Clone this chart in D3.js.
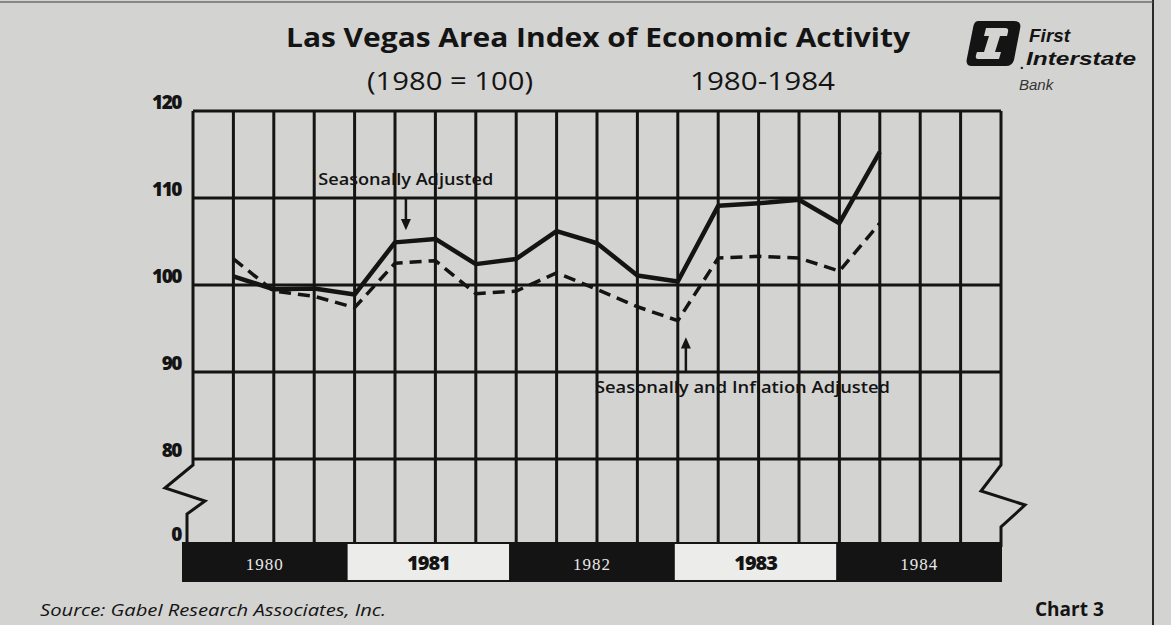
<!DOCTYPE html>
<html>
<head>
<meta charset="utf-8">
<script src="https://cdn.jsdelivr.net/npm/d3@7.9.0/dist/d3.min.js"></script>
<style>
  html, body { margin: 0; padding: 0; background: #d3d3d1; }
  svg { display: block; }
</style>
</head>
<body>
<svg id="chart" width="1171" height="625"></svg>
<script>
// quarterly index values, 1980 Q1 .. 1984 Q1
const quarters = d3.range(1, 18);
const seasonal = [101.0, 99.5, 99.6, 98.9, 104.9, 105.3, 102.4, 103.0, 106.2, 104.8, 101.1, 100.4, 109.1, 109.4, 109.8, 107.1, 115.3];
const seasonalInflation = [103.0, 99.3, 98.7, 97.4, 102.5, 102.8, 99.0, 99.3, 101.4, 99.5, 97.5, 95.9, 103.1, 103.3, 103.1, 101.6, 107.1];
const years = ["1980", "1981", "1982", "1983", "1984"];
const yTicks = [0, 80, 90, 100, 110, 120];

const svg = d3.select("#chart");
const ink = "#141414";
const paper = "#d3d3d1";

// broken axis: 0 sits just below 80
const x = d3.scaleLinear().domain([0, 20]).range([193, 1001]);
const y = d3.scaleLinear().domain([0, 80, 120]).range([543, 459, 111]);
const band = d3.scaleBand().domain(years).range([183, 1001]);

// outer page rules
svg.append("line").attr("x1", 1153).attr("x2", 1153).attr("y1", 0).attr("y2", 625)
  .attr("stroke", "#2a2a2a").attr("stroke-width", 2);
svg.append("line").attr("x1", 0).attr("x2", 1153).attr("y1", 2).attr("y2", 2)
  .attr("stroke", "#555").attr("stroke-width", 2).attr("opacity", 0.6);

// title
svg.append("text").attr("x", 598).attr("y", 47).attr("text-anchor", "middle")
  .attr("font-family", "Open Sans").attr("font-weight", 700).attr("font-size", 27)
  .attr("textLength", 624).attr("lengthAdjust", "spacingAndGlyphs")
  .attr("fill", ink).text("Las Vegas Area Index of Economic Activity");
svg.append("text").attr("x", 367).attr("y", 90)
  .attr("font-family", "Open Sans").attr("font-size", 25)
  .attr("textLength", 166).attr("lengthAdjust", "spacingAndGlyphs")
  .attr("fill", ink).text("(1980 = 100)");
svg.append("text").attr("x", 690).attr("y", 90)
  .attr("font-family", "Open Sans").attr("font-size", 25)
  .attr("textLength", 145).attr("lengthAdjust", "spacingAndGlyphs")
  .attr("fill", ink).text("1980-1984");

// logo
const logo = svg.append("g").attr("transform", "translate(968,20)");
logo.append("path")
  .attr("d", "M10,1 H46 Q54,1 52,9 L46,40 Q44,46 38,46 H4 Q-3,46 -1,38 L5,8 Q6,1 10,1 Z")
  .attr("fill", ink);
logo.append("path")
  .attr("d", "M18,8 H37 Q41,8 40,12 L39,16 H32 L27,32 H33 L31,39 H10 Q7,39 8,35 L9,32 H16 L21,16 H16 Z")
  .attr("fill", paper);
logo.append("text").attr("x", 61).attr("y", 22)
  .attr("font-family", "Liberation Sans").attr("font-style", "italic").attr("font-weight", 700)
  .attr("font-size", 19).attr("fill", ink).text("First");
logo.append("text").attr("x", 58).attr("y", 45)
  .attr("font-family", "Liberation Sans").attr("font-style", "italic").attr("font-weight", 700)
  .attr("font-size", 19).attr("textLength", 110).attr("lengthAdjust", "spacingAndGlyphs")
  .attr("fill", ink).text("Interstate");
logo.append("text").attr("x", 51).attr("y", 49).attr("font-size", 20).attr("fill", ink)
  .attr("font-family", "Liberation Sans").text(".");
logo.append("text").attr("x", 51).attr("y", 70)
  .attr("font-family", "Liberation Sans").attr("font-style", "italic")
  .attr("font-size", 15).attr("fill", "#333").text("Bank");

// grid
const grid = svg.append("g").attr("stroke", ink).attr("stroke-width", 3).attr("fill", "none");
grid.selectAll("line.v")
  .data(d3.range(1, 20))
  .join("line")
  .attr("class", "v")
  .attr("x1", (d) => x(d)).attr("x2", (d) => x(d))
  .attr("y1", y(120)).attr("y2", y(0));
grid.selectAll("line.h")
  .data([80, 90, 100, 110, 120])
  .join("line")
  .attr("class", "h")
  .attr("x1", x(0)).attr("x2", x(20))
  .attr("y1", (d) => y(d)).attr("y2", (d) => y(d));

// frame sides with axis-break zigzags
const yb = y(80);
grid.append("path").attr("d",
  `M${x(0)},${y(120)} V${yb + 6} L${x(0) - 28},${yb + 29} L${x(0) + 12},${yb + 42} L${x(0) - 6},${yb + 55} V${y(0)}`);
grid.append("path").attr("d",
  `M${x(20)},${y(120)} V${yb + 6} L${x(20) - 20},${yb + 32} L${x(20) + 24},${yb + 46} L${x(20)},${yb + 68} V${y(0) + 4}`);

// y tick labels
svg.append("g").selectAll("text")
  .data(yTicks)
  .join("text")
  .attr("x", 181).attr("y", (d) => y(d) - 2)
  .attr("text-anchor", "end")
  .attr("font-family", "Open Sans").attr("font-weight", 800).attr("font-size", 19)
  .attr("letter-spacing", -1.5)
  .attr("fill", ink)
  .text((d) => d);

// year bands
const bands = svg.append("g");
bands.selectAll("rect")
  .data(years)
  .join("rect")
  .attr("x", (d) => band(d)).attr("width", band.bandwidth())
  .attr("y", y(0)).attr("height", 38)
  .attr("fill", (d, i) => (i % 2 === 0 ? ink : "#ececea"))
  .attr("stroke", ink).attr("stroke-width", 2);
bands.selectAll("text")
  .data(years)
  .join("text")
  .attr("x", (d) => band(d) + band.bandwidth() / 2)
  .attr("y", y(0) + 27)
  .attr("text-anchor", "middle")
  .attr("font-family", (d, i) => (i % 2 === 0 ? "Liberation Serif" : "Open Sans"))
  .attr("font-weight", (d, i) => (i % 2 === 0 ? 400 : 800))
  .attr("font-size", (d, i) => (i % 2 === 0 ? 17 : 20))
  .attr("letter-spacing", (d, i) => (i % 2 === 0 ? 1 : -1))
  .attr("fill", (d, i) => (i % 2 === 0 ? "#e8e8e8" : ink))
  .text((d) => d);

// series
const line = d3.line().x((d) => x(d[0])).y((d) => y(d[1]));
svg.append("path")
  .datum(d3.zip(quarters, seasonalInflation))
  .attr("d", line)
  .attr("fill", "none").attr("stroke", ink).attr("stroke-width", 3.5)
  .attr("stroke-dasharray", "12,7").attr("stroke-linejoin", "round");
svg.append("path")
  .datum(d3.zip(quarters, seasonal))
  .attr("d", line)
  .attr("fill", "none").attr("stroke", ink).attr("stroke-width", 4.5)
  .attr("stroke-linejoin", "round");

// annotations (grid shows through the lettering, as in print)
const note = svg.append("g").attr("font-family", "Open Sans").attr("font-size", 16)
  .attr("font-weight", 600).attr("fill", ink);
note.append("text").attr("x", x(3.1)).attr("y", y(111.5))
  .attr("textLength", 175).attr("lengthAdjust", "spacingAndGlyphs")
  .text("Seasonally Adjusted");
note.append("line").attr("x1", x(5.27)).attr("x2", x(5.27)).attr("y1", y(109.9)).attr("y2", y(107.2))
  .attr("stroke", ink).attr("stroke-width", 2.5);
note.append("path")
  .attr("d", `M${x(5.27) - 5},${y(107.6)} L${x(5.27) + 5},${y(107.6)} L${x(5.27)},${y(106.3)} Z`);

note.append("text").attr("x", x(9.95)).attr("y", y(87.6))
  .attr("textLength", 295).attr("lengthAdjust", "spacingAndGlyphs")
  .text("Seasonally and Inflation Adjusted");
note.append("line").attr("x1", x(12.2)).attr("x2", x(12.2)).attr("y1", y(89.9)).attr("y2", y(93.0))
  .attr("stroke", ink).attr("stroke-width", 2.5);
note.append("path")
  .attr("d", `M${x(12.2) - 5},${y(92.7)} L${x(12.2) + 5},${y(92.7)} L${x(12.2)},${y(94.0)} Z`);

// footer
svg.append("text").attr("x", 40).attr("y", 616)
  .attr("font-family", "Open Sans").attr("font-style", "italic").attr("font-size", 16)
  .attr("textLength", 346).attr("lengthAdjust", "spacingAndGlyphs")
  .attr("fill", ink).text("Source: Gabel Research Associates, Inc.");
svg.append("text").attr("x", 1035).attr("y", 616)
  .attr("font-family", "Open Sans").attr("font-weight", 700).attr("font-size", 19)
  .attr("fill", ink).text("Chart 3");
</script>
</body>
</html>
